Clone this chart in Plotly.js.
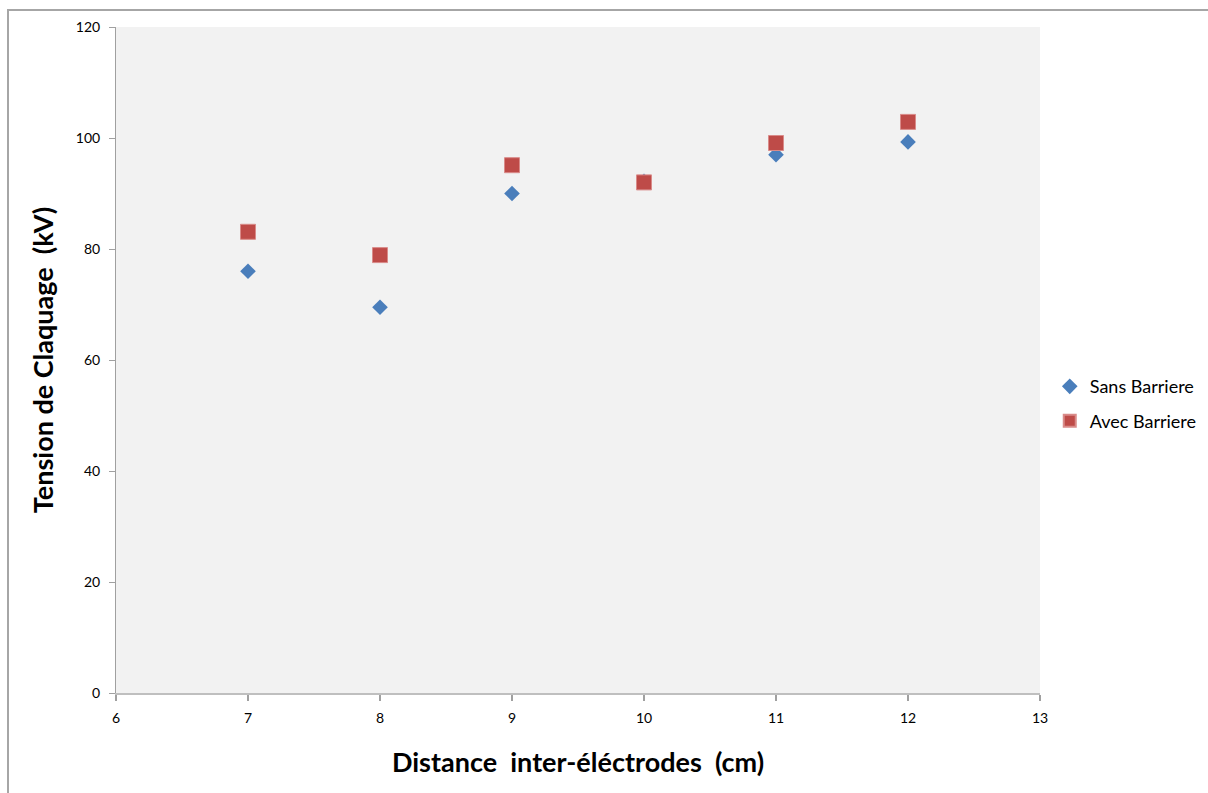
<!DOCTYPE html>
<html>
<head>
<meta charset="utf-8">
<script src="https://cdn.plot.ly/plotly-3.0.1.min.js"></script>
<style>
  html, body { margin: 0; padding: 0; background: #ffffff; }
  #wrap { position: relative; width: 1208px; height: 793px; overflow: hidden; }
  #chart { position: absolute; left: 0; top: 0; width: 1208px; height: 793px; }
  #frame { position: absolute; left: 7px; top: 9px; width: 1210px; height: 800px; border: 2px solid #a6a6a6; box-sizing: border-box; pointer-events: none; }
</style>
</head>
<body>
<div id="wrap">
  <div id="chart"></div>
  <div id="frame"></div>
</div>
<script>
const distances = [7, 8, 9, 10, 11, 12];
const sansBarriere = [76.0, 69.5, 90.0, 92.2, 97.0, 99.3];
const avecBarriere = [83.1, 78.9, 95.1, 92.0, 99.1, 102.9];
const seriesNames = ["Sans Barriere", "Avec Barriere"];
const xTitle = "Distance&nbsp; inter-éléctrodes&nbsp; (cm)";
const yTitle = "Tension de Claquage&nbsp; (kV)";

const font = "Lato, 'Open Sans', 'Liberation Sans', sans-serif";

const traces = [
  {
    x: distances, y: sansBarriere, name: seriesNames[0], legendgroup: "a",
    type: "scatter", mode: "markers",
    marker: { symbol: "diamond", size: 12, color: "#4a7ebb", line: { width: 0 } }
  },
  {
    x: distances, y: avecBarriere, name: seriesNames[1], legendgroup: "b",
    type: "scatter", mode: "markers",
    marker: { symbol: "square", size: 15, color: "#be4b48", line: { width: 1, color: "#d98b89" } }
  }
];

const layout = {
  width: 1208, height: 793,
  margin: { l: 116, r: 168, t: 27, b: 100, pad: 0, autoexpand: false },
  paper_bgcolor: "#ffffff",
  plot_bgcolor: "#f2f2f2",
  font: { family: font, color: "#000000", size: 14 },
  showlegend: true,
  legend: {
    xref: "container", yref: "container",
    x: 0.869, xanchor: "left", y: 0.491, yanchor: "middle",
    font: { family: font, size: 18, color: "#000000" },
    bgcolor: "rgba(0,0,0,0)", tracegroupgap: 8, itemsizing: "constant"
  },
  xaxis: {
    range: [6, 13], dtick: 1, tick0: 6,
    showgrid: false, zeroline: false,
    showline: true, linecolor: "#bfbfbf", linewidth: 2,
    ticks: "outside", ticklen: 6, tickcolor: "#a0a0a0", tickwidth: 2,
    ticklabelstandoff: 5,
    tickfont: { family: font, size: 14, color: "#000000" },
    title: { text: xTitle, font: { family: font, size: 27, color: "#000000", weight: "bold" }, standoff: 28 }
  },
  yaxis: {
    range: [0, 120], dtick: 20, tick0: 0,
    showgrid: false, zeroline: false,
    showline: true, linecolor: "#a0a0a0", linewidth: 1,
    ticks: "outside", ticklen: 6, tickcolor: "#a0a0a0", tickwidth: 1,
    ticklabelstandoff: 6,
    tickfont: { family: font, size: 14, color: "#000000" },
    title: { text: yTitle, font: { family: font, size: 27, color: "#000000", weight: "bold" }, standoff: 14 }
  }
};

Plotly.newPlot("chart", traces, layout, { displayModeBar: false, staticPlot: true });
</script>
</body>
</html>
